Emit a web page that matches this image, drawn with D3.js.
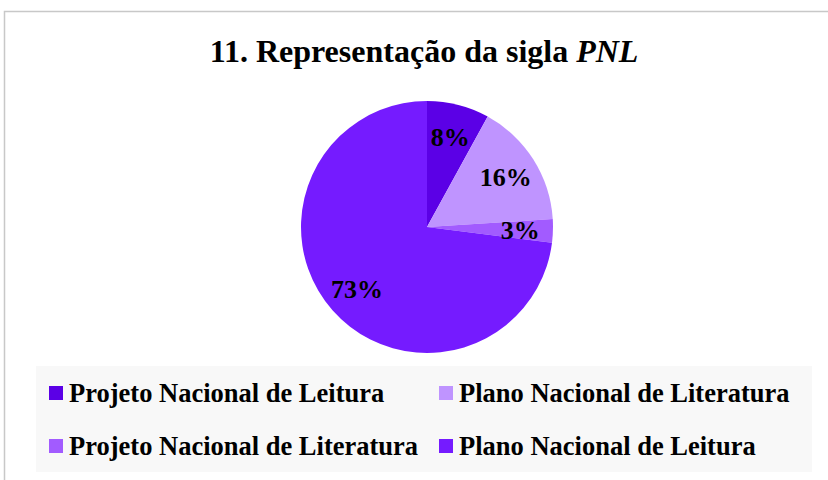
<!DOCTYPE html>
<html>
<head>
<meta charset="utf-8">
<script src="https://cdn.jsdelivr.net/npm/d3@7"></script>
<style>
  html, body { margin: 0; padding: 0; background: #ffffff; }
  svg { display: block; font-family: "Liberation Serif", "Times New Roman", serif; }
</style>
</head>
<body>
<div id="chart"></div>
<script>
// data
const categories = [
  "Projeto Nacional de Leitura",
  "Plano Nacional de Literatura",
  "Projeto Nacional de Literatura",
  "Plano Nacional de Leitura"
];
const values = [8, 16, 3, 73];
const colors = ["#5b00e6", "#bf94ff", "#a25bff", "#751bff"];

const width = 828, height = 480;
const cx = 427, cy = 227, radius = 126;

const svg = d3.select("#chart")
  .append("svg")
  .attr("width", width)
  .attr("height", height);

// chart frame (runs off the right and bottom edges)
svg.append("rect")
  .attr("x", 4.5)
  .attr("y", 11.5)
  .attr("width", width + 10)
  .attr("height", height + 10)
  .attr("fill", "#ffffff")
  .attr("stroke", "#c8c8c8")
  .attr("stroke-width", 1.5);

const title = svg.append("text")
  .attr("x", 424)
  .attr("y", 62)
  .attr("text-anchor", "middle")
  .style("font-size", "32px")
  .style("font-weight", "bold");
title.append("tspan").text("11. Representação da sigla ");
title.append("tspan").style("font-style", "italic").text("PNL");

const pie = d3.pie().sort(null).value(d => d)(values);
const arc = d3.arc().innerRadius(0).outerRadius(radius);
const labelArc = d3.arc().innerRadius(radius * 0.74).outerRadius(radius * 0.74);

const g = svg.append("g").attr("transform", `translate(${cx}, ${cy})`);

g.selectAll(".slice")
  .data(pie)
  .join("path")
  .attr("class", "slice")
  .attr("d", arc)
  .attr("fill", (d, i) => colors[i]);

g.selectAll(".pct")
  .data(pie)
  .join("text")
  .attr("class", "pct")
  .attr("transform", d => `translate(${labelArc.centroid(d)})`)
  .attr("text-anchor", "middle")
  .attr("dy", "0.35em")
  .style("font-size", "26px")
  .style("font-weight", "bold")
  .attr("fill", "#000000")
  .text(d => d.data + "%");

// legend
svg.append("rect")
  .attr("x", 36)
  .attr("y", 366)
  .attr("width", 776)
  .attr("height", 106)
  .attr("fill", "#f8f8f8");

const colX = [49, 439], rowY = [393, 446];
const legend = svg.selectAll(".legend")
  .data(categories)
  .join("g")
  .attr("class", "legend")
  .attr("transform", (d, i) => `translate(${colX[i % 2]}, ${rowY[Math.floor(i / 2)]})`);

legend.append("rect")
  .attr("x", 0)
  .attr("y", -7)
  .attr("width", 14)
  .attr("height", 14)
  .attr("fill", (d, i) => colors[i]);

legend.append("text")
  .attr("x", 20)
  .attr("y", 9)
  .style("font-size", "26.5px")
  .style("font-weight", "bold")
  .text(d => d);
</script>
</body>
</html>
